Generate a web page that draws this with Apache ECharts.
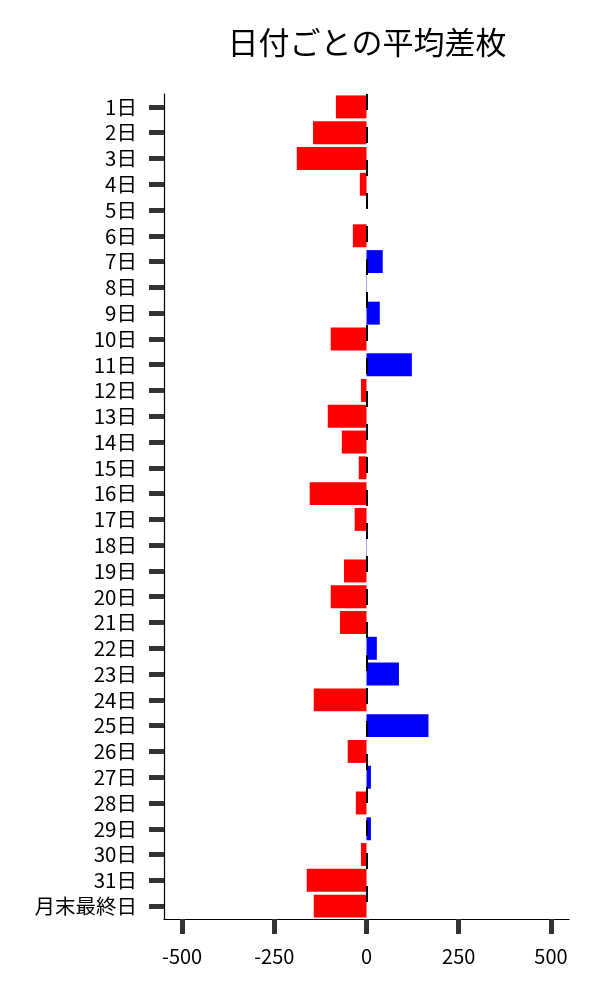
<!DOCTYPE html>
<html>
<head>
<meta charset="utf-8">
<script src="https://cdn.jsdelivr.net/npm/echarts@6/dist/echarts.min.js"></script>
<style>
html,body{margin:0;padding:0;background:#fff;}
#chart{width:600px;height:1000px;}
</style>
</head>
<body>
<div id="chart"></div>
<script>
var titleText = '日付ごとの平均差枚';
var categories = ['1日','2日','3日','4日','5日','6日','7日','8日','9日','10日','11日','12日','13日','14日','15日','16日','17日','18日','19日','20日','21日','22日','23日','24日','25日','26日','27日','28日','29日','30日','31日','月末最終日'];
var avgDiff = [-83,-145,-189,-18,0,-37,44,1,36,-97,123,-15,-105,-67,-21,-154,-32,1,-61,-97,-72,28,88,-143,168,-51,12,-29,12,-15,-162,-143];
var xTicks = [-500,-250,0,250,500];
var xMin = -549, xMax = 549;

var fontFam = '"Noto Sans CJK JP", "Noto Sans", sans-serif';
var chart = echarts.init(document.getElementById('chart'));
chart.setOption({
  animation: false,
  backgroundColor: '#ffffff',
  title: {
    text: titleText,
    left: 362, top: 22, textAlign: 'center',
    textStyle: {fontFamily: fontFam, fontSize: 31, fontWeight: 'normal', color: '#000'}
  },
  grid: {left: 164, right: 31, top: 94, height: 825},
  xAxis: {
    type: 'value', min: xMin, max: xMax,
    splitLine: {show: false},
    axisLine: {show: true, onZero: false, lineStyle: {color: '#000', width: 1.2}},
    axisTick: {show: true, length: 15, customValues: xTicks, lineStyle: {color: '#333', width: 5}},
    axisLabel: {customValues: xTicks, margin: 27, fontFamily: fontFam, fontSize: 20, color: '#000'}
  },
  yAxis: {
    type: 'category', data: categories, inverse: true,
    axisLine: {show: true, onZero: false, lineStyle: {color: '#000', width: 1.2}},
    axisTick: {show: true, alignWithLabel: true, length: 15, lineStyle: {color: '#333', width: 5}},
    axisLabel: {margin: 27, fontFamily: fontFam, fontSize: 20.5, color: '#000', interval: 0}
  },
  series: [{
    type: 'bar',
    data: avgDiff,
    barCategoryGap: '11%',
    itemStyle: {
      color: function (p) { return p.value < 0 ? '#ff0000' : '#0000ff'; }
    },
    markLine: {
      silent: true, symbol: ['none','none'],
      label: {show: false},
      lineStyle: {color: '#000', width: 2, type: [16,17]},
      data: [{xAxis: 0}],
      z: 10
    }
  }]
});
</script>
</body>
</html>
